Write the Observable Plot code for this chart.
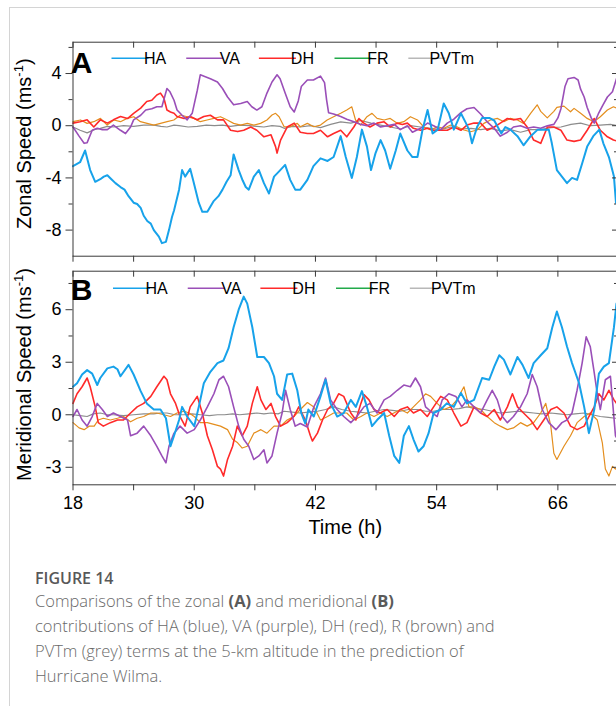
<!DOCTYPE html>
<html>
<head>
<meta charset="utf-8">
<script src="https://cdn.jsdelivr.net/npm/d3@7"></script>
<script src="https://cdn.jsdelivr.net/npm/@observablehq/plot@0.6"></script>
<style>
html,body{margin:0;padding:0;background:#fff;}
body{width:616px;height:706px;overflow:hidden;position:relative;font-family:"Liberation Sans",Arial,sans-serif;}
#frameTop{position:absolute;left:9px;top:7px;width:640px;height:0;border-top:1px solid #d4d4d4;}
#frameLeft{position:absolute;left:9px;top:7px;width:0;height:720px;border-left:1px solid #d4d4d4;}
#panelA{position:absolute;left:0;top:0;width:640px;height:270px;}
#panelB{position:absolute;left:0;top:256px;width:640px;height:300px;}
#panelA svg,#panelB svg{display:block;}
#figlabel{position:absolute;left:35px;top:566px;font-family:"Open Sans",sans-serif;font-weight:600;font-size:16px;line-height:25px;color:#585858;white-space:nowrap;}
#caption{position:absolute;left:35px;top:588px;font-family:"Open Sans",sans-serif;font-weight:300;font-size:16.5px;line-height:25px;color:#6a6a6a;white-space:nowrap;}
#caption b{font-weight:700;color:#5a5a5a;}
</style>
</head>
<body>
<div id="frameTop"></div>
<div id="frameLeft"></div>
<div id="panelA"></div>
<div id="panelB"></div>
<div id="figlabel">FIGURE 14</div>
<div id="caption">Comparisons of the zonal <b>(A)</b> and meridional <b>(B)</b><br>contributions of HA (blue), VA (purple), DH (red), R (brown) and<br>PVTm (grey) terms at the 5-km altitude in the prediction of<br>Hurricane Wilma.</div>
<script>
// ---------- series / legend metadata ----------
const seriesNames = ["HA", "VA", "DH", "FR", "PVTm"];
const lineColors = ["#17a2ea", "#9a4fb8", "#ff2a2a", "#e48e1e", "#8c8c8c"];
const legendColors = ["#17a2ea", "#9a4fb8", "#ff2a2a", "#22aa4a", "#b8b8b8"];
const strokeWidths = [2, 1.6, 1.6, 1.2, 1.2];

// ---------- axis ticks ----------
const xDomain = [18, 72];
const xTickValues = [18, 24, 30, 36, 42, 48, 54, 60, 66, 72];
const xLabelValues = [18, 30, 42, 54, 66];
const zonalDomain = [-10, 6.4];
const zonalMajor = [-8, -4, 0, 4];
const zonalMinor = [-6, -2, 2, 6];
const meridDomain = [-4, 8.2];
const meridMajor = [-3, 0, 3, 6];
const meridMinor = [-1.5, 1.5, 4.5, 7.5];

// ---------- panel A: zonal speed [time (h), value (m/s)] ----------
const zonalHA = [[18,-3.1],[18.7,-2.8],[19.2,-1.9],[19.7,-3.4],[20.2,-4.3],[20.7,-4.1],[21.05,-3.9],[21.4,-3.8],[21.8,-4.1],[22.2,-4.4],[22.7,-4.7],[23.1,-4.9],[23.5,-5.4],[24.0,-5.9],[24.35,-6.0],[24.7,-6.3],[25.0,-6.9],[25.35,-7.3],[25.7,-7.5],[26.0,-8.0],[26.5,-8.5],[26.8,-9.0],[27.2,-8.9],[27.5,-8.0],[27.8,-7.0],[28.0,-6.5],[28.5,-4.9],[28.8,-3.4],[29.1,-3.9],[29.6,-3.3],[29.9,-4.2],[30.45,-5.9],[30.8,-6.6],[31.3,-6.6],[31.9,-5.8],[32.4,-5.4],[32.8,-4.9],[33.2,-4.3],[33.6,-3.8],[33.9,-2.2],[34.4,-3.4],[34.8,-4.2],[35.1,-4.7],[35.4,-4.9],[35.9,-3.9],[36.4,-3.4],[36.9,-4.4],[37.4,-5.2],[37.9,-3.9],[38.4,-3.5],[39.0,-3.0],[39.5,-4.15],[40.0,-4.9],[40.5,-4.9],[41.2,-4.15],[41.8,-3.1],[42.5,-2.5],[43.2,-2.7],[43.8,-2.4],[44.5,-0.8],[45.0,-2.4],[45.6,-4.0],[46.1,-2.4],[46.6,-0.3],[47.1,-1.6],[47.5,-3.4],[47.95,-2.1],[48.45,-1.1],[48.9,-1.9],[49.4,-3.3],[49.95,-1.9],[50.4,-0.6],[51.1,-1.9],[51.6,-2.4],[52.1,-2.4],[52.6,-0.3],[53.1,1.2],[53.6,-0.6],[54.1,-0.3],[54.7,1.7],[55.2,0.95],[55.7,-0.3],[56.4,0.95],[56.9,0.2],[57.2,-0.3],[57.5,-1.35],[58.0,-0.1],[58.5,0.6],[59.2,0.6],[59.7,0.4],[60.4,-0.6],[60.8,-0.1],[61.3,-0.3],[62.0,-0.8],[62.6,-1.5],[63.3,-0.8],[64.0,-0.3],[64.6,-0.3],[65.1,-0.3],[65.4,-1.35],[65.9,-3.4],[66.4,-3.9],[66.9,-4.4],[67.4,-4.0],[67.9,-4.15],[68.4,-2.9],[68.9,-1.6],[69.5,-0.8],[70.1,-0.3],[70.5,-1.35],[71.05,-2.4],[71.55,-3.9],[71.75,-5.9],[72,-6.2]];
const zonalVA = [[18,-0.1],[18.6,-0.8],[19.1,-1.35],[19.4,-1.3],[19.9,-0.35],[20.4,-0.2],[20.9,-0.3],[21.4,-0.3],[22.0,0.05],[22.7,-0.35],[23.2,-0.6],[23.7,-0.1],[24.0,0.45],[24.7,0.8],[25.2,1.2],[25.8,1.3],[26.3,1.45],[26.8,1.45],[27.3,2.85],[27.6,2.6],[28.0,1.95],[28.3,1.2],[28.8,0.8],[29.3,0.45],[29.8,0.95],[30.3,2.7],[30.6,3.9],[31.1,3.75],[31.6,3.6],[32.3,3.35],[32.8,2.85],[33.3,2.2],[33.9,1.6],[34.6,1.7],[35.25,1.85],[35.7,1.45],[36.2,1.2],[36.7,1.45],[37.2,2.5],[37.7,3.35],[38.2,3.9],[38.5,3.6],[39.0,2.5],[39.5,1.45],[39.9,1.05],[40.3,1.9],[40.6,3.0],[41.2,3.5],[41.8,3.5],[42.5,3.8],[42.9,3.3],[43.1,2.0],[43.3,1.0],[43.8,0.9],[44.5,0.7],[45.1,0.5],[45.8,0.3],[46.5,0.1],[47.1,0.0],[47.8,0.2],[48.45,-0.1],[49.1,0.0],[49.8,0.1],[50.4,-0.3],[51.1,0.0],[51.6,-0.5],[52.4,-0.2],[53.1,0.2],[53.7,0.0],[54.4,-0.3],[55.05,0.2],[55.7,0.5],[56.4,1.0],[57.0,1.3],[57.7,1.4],[58.35,0.9],[59.0,0.3],[59.7,-0.2],[60.3,-0.8],[61.0,-0.5],[61.6,-0.1],[62.3,0.0],[62.96,-0.2],[63.6,-0.1],[64.3,-0.2],[64.96,0.0],[65.6,0.1],[66.0,0.6],[66.3,1.3],[66.7,3.0],[67.0,3.6],[67.6,3.7],[68.0,3.5],[68.25,2.8],[68.6,2.2],[68.9,1.4],[69.3,0.6],[69.6,0.2],[70.0,0.9],[70.4,1.5],[70.9,2.2],[71.4,2.6],[71.8,3.6],[72,4.0]];
const zonalDH = [[18,0.2],[18.7,0.3],[19.4,0.45],[20.06,-0.1],[20.7,0.45],[21.4,0.2],[22.0,0.45],[22.7,0.7],[23.4,0.55],[24.0,0.95],[24.7,1.35],[25.3,1.85],[25.8,1.95],[26.3,2.35],[26.66,2.5],[27.0,2.1],[27.3,1.2],[27.65,1.05],[28.0,0.95],[28.3,0.7],[29.0,0.55],[29.6,0.7],[30.3,0.45],[30.95,0.7],[31.6,0.8],[32.3,0.45],[32.9,0.45],[33.6,-0.35],[34.3,-0.45],[34.9,-0.35],[35.6,-0.1],[36.2,-0.35],[36.9,-0.85],[37.6,-0.7],[38.05,-1.6],[38.2,-2.1],[38.55,-1.1],[39.2,-0.1],[39.9,0.2],[40.5,-0.5],[41.2,-0.6],[41.8,-0.6],[42.5,-0.35],[43.2,-0.85],[43.8,-0.6],[44.5,-0.35],[45.1,-0.85],[45.8,-0.1],[46.3,0.55],[46.8,0.2],[47.4,-0.1],[48.1,0.2],[48.8,0.3],[49.4,-0.1],[50.1,0.2],[50.6,0.1],[51.1,0.2],[51.7,-0.2],[52.4,-0.35],[53.1,-0.2],[53.7,-0.35],[54.4,-0.35],[55.05,-0.35],[55.7,-0.1],[56.4,-0.35],[57.0,0.05],[57.7,0.2],[58.35,0.2],[59.0,-0.35],[59.7,-0.1],[60.3,0.2],[61.0,0.55],[61.6,0.45],[62.3,0.55],[62.96,-0.1],[63.6,-1.1],[64.3,-1.35],[64.96,-0.1],[65.6,-0.1],[66.3,-0.35],[66.9,-1.1],[67.6,-1.2],[68.25,-1.1],[68.9,-0.35],[69.6,0.55],[70.2,-0.35],[70.9,-0.85],[71.5,-1.1],[72,-1.2]];
const zonalFR = [[18,0.31],[18.74,0.44],[19.4,0.18],[20.06,0.31],[20.72,0.56],[21.38,0.05],[22.04,0.44],[22.7,0.31],[23.36,0.56],[24.02,0.69],[24.68,0.31],[25.34,0.18],[26.0,0.05],[26.66,0.18],[27.32,0.31],[27.98,0.44],[28.64,0.82],[29.3,0.69],[29.96,0.56],[30.6,0.31],[31.27,0.44],[31.94,0.56],[32.6,0.69],[33.27,0.44],[33.9,0.18],[34.6,0.05],[35.25,0.18],[35.9,0.05],[36.57,0.18],[37.2,0.44],[37.7,0.82],[38.05,0.95],[38.4,0.69],[38.9,-0.08],[39.5,-0.08],[40.2,0.18],[40.5,-0.08],[41.2,0.18],[41.84,-0.08],[42.5,0.05],[43.16,0.44],[43.8,0.69],[44.5,0.95],[45.1,1.2],[45.6,1.45],[45.97,0.44],[46.46,0.05],[47.1,0.69],[47.6,0.95],[48.1,0.56],[48.8,0.44],[49.4,0.56],[50.1,0.18],[50.75,0.31],[51.4,0.69],[52.1,0.44],[52.7,-0.08],[53.4,-0.33],[54.05,-0.08],[54.7,-0.2],[55.4,0.05],[56.0,-0.08],[56.7,-0.33],[57.35,-0.46],[58.0,-0.33],[58.67,0.18],[59.33,0.44],[60.0,0.56],[60.65,0.31],[61.3,0.56],[62.0,0.44],[62.6,0.18],[63.3,0.95],[63.95,1.6],[64.3,1.1],[64.95,0.6],[65.6,1.1],[65.9,1.4],[66.6,1.5],[67.25,1.07],[67.6,1.33],[68.25,0.95],[68.9,0.56],[69.56,0.31],[70.2,0.69],[70.9,1.2],[71.5,1.45],[72,1.3]];
const zonalPV = [[18,-0.1],[18.7,-0.35],[19.4,-0.55],[20.1,-0.3],[20.7,-0.2],[21.4,-0.05],[22.0,-0.1],[23.0,0.0],[24.0,-0.05],[25.0,0.05],[26.0,0.05],[26.7,-0.05],[27.3,-0.1],[28.0,0.05],[28.5,0.0],[29.4,-0.1],[30.3,-0.05],[31.2,0.05],[32.0,0.0],[32.8,0.05],[33.6,-0.05],[34.5,0.05],[35.5,0.0],[36.2,-0.05],[36.9,-0.1],[37.7,0.0],[38.5,-0.05],[38.9,-0.2],[39.7,-0.05],[40.5,-0.1],[41.5,0.0],[42.5,-0.15],[43.5,0.1],[44.5,0.3],[45.5,0.2],[46.5,0.4],[47.5,0.2],[48.45,0.05],[49.4,-0.1],[50.4,-0.25],[51.4,0.0],[52.4,-0.1],[53.4,-0.2],[54.4,-0.3],[55.4,-0.1],[56.4,-0.25],[57.4,-0.2],[58.35,-0.3],[59.3,-0.2],[60.3,-0.4],[61.3,-0.3],[62.3,-0.5],[63.3,-0.3],[64.3,-0.3],[65.3,-0.15],[66.3,-0.1],[67.3,0.1],[68.25,0.2],[69.2,0.0],[70.2,0.05],[71.2,0.1],[72,0.0]];

// ---------- panel B: meridional speed [time (h), value (m/s)] ----------
const meridHA = [[18,1.6],[18.4,1.8],[18.9,2.3],[19.4,2.55],[19.9,2.35],[20.4,1.7],[20.7,2.1],[21.4,2.65],[22.0,2.75],[22.4,2.6],[22.7,2.2],[23.5,2.85],[24.0,2.3],[24.7,1.35],[25.3,0.65],[26.0,0.3],[26.66,0.3],[27.2,-0.2],[27.65,-1.8],[28.0,-1.2],[28.5,-0.3],[28.8,0.45],[29.3,-0.1],[30.0,-0.65],[30.45,0.45],[30.95,1.8],[31.6,2.45],[32.3,2.95],[32.9,3.1],[33.4,3.8],[33.9,5.0],[34.4,6.0],[34.9,6.75],[35.25,6.35],[35.75,5.0],[36.24,3.3],[36.9,3.3],[37.4,2.95],[37.9,2.2],[38.2,1.2],[38.7,0.85],[39.2,2.3],[39.7,2.35],[40.2,1.4],[40.6,0.1],[41.0,-0.5],[41.3,0.3],[41.84,-0.1],[42.5,1.05],[43.0,2.0],[43.5,0.65],[44.15,-0.1],[44.8,0.1],[45.5,0.85],[46.0,0.45],[46.6,1.35],[47.1,0.45],[47.6,-0.65],[48.1,-0.3],[48.8,0.1],[49.3,-1.2],[49.8,-2.35],[50.3,-2.75],[50.75,-1.2],[51.25,-0.65],[51.7,-1.4],[52.2,-2.1],[52.7,-1.8],[53.2,-1.05],[53.7,0.1],[54.4,0.3],[55.0,0.65],[55.7,0.45],[56.4,1.25],[57.0,0.65],[57.7,0.85],[58.5,2.1],[59.2,2.0],[59.7,2.75],[60.2,3.4],[60.65,3.15],[61.3,2.3],[62.0,3.3],[62.5,2.85],[63.1,2.1],[63.6,2.95],[64.3,3.4],[64.95,3.8],[65.45,5.0],[65.9,5.9],[66.4,5.0],[66.9,3.9],[67.4,2.95],[68.1,1.8],[68.6,0.45],[69.07,-1.05],[69.6,0.3],[70.06,2.35],[70.55,2.75],[71.05,2.95],[71.55,5.0],[71.8,6.35],[72,6.5]];
const meridVA = [[18,-0.1],[18.4,0.3],[18.9,-0.3],[19.4,-0.65],[19.9,-0.1],[20.4,0.65],[20.9,0.3],[21.4,-0.1],[22.0,0.1],[22.7,-0.1],[23.4,-0.3],[23.7,-1.2],[24.35,-1.05],[25.0,-0.65],[25.7,-1.2],[26.3,-1.8],[26.8,-2.35],[27.2,-2.75],[27.5,-1.8],[28.0,-1.05],[28.6,-0.65],[29.3,-1.05],[30.0,-0.85],[30.6,-0.3],[31.3,0.45],[31.95,1.2],[32.45,2.0],[32.9,2.2],[33.4,1.6],[33.9,0.45],[34.4,-0.65],[34.9,-1.4],[35.4,-1.8],[35.9,-2.55],[36.4,-2.35],[36.9,-2.0],[37.2,-2.75],[37.7,-2.35],[38.2,-1.05],[38.7,0.1],[39.04,1.4],[39.5,0.3],[40.0,-0.65],[40.5,-0.5],[41.2,-0.7],[41.84,0.45],[42.5,1.2],[43.0,2.1],[43.5,0.85],[44.15,0.3],[44.8,-0.1],[45.5,-0.45],[46.1,-0.1],[46.8,0.45],[47.4,0.65],[48.1,0.1],[48.8,0.85],[49.4,1.05],[50.1,1.4],[50.75,1.7],[51.4,1.6],[51.9,2.1],[52.4,1.6],[52.9,0.45],[53.6,0.1],[54.05,-0.1],[54.55,0.85],[55.2,1.2],[55.9,1.05],[56.5,0.45],[57.0,0.85],[57.7,0.45],[58.35,0.1],[59.0,0.85],[59.5,1.4],[60.0,0.85],[60.5,-0.1],[61.0,-0.45],[61.6,-0.1],[62.3,0.45],[62.96,1.2],[63.46,2.3],[63.95,1.6],[64.45,0.3],[65.1,-0.45],[65.8,-0.85],[66.4,-0.45],[66.9,-0.3],[67.4,0.1],[67.9,1.4],[68.4,2.95],[68.8,4.45],[69.2,3.9],[69.56,2.55],[69.9,1.2],[70.2,0.3],[70.7,2.0],[71.2,2.2],[71.7,-1.2],[72,-1.5]];
const meridDH = [[18,0.65],[18.4,1.2],[18.9,1.6],[19.4,2.1],[19.7,1.6],[20.2,0.45],[20.5,-0.45],[21.0,-0.65],[21.7,-0.45],[22.4,-0.3],[23.0,-0.3],[23.7,0.1],[24.35,0.45],[25.0,0.65],[25.7,1.05],[26.3,1.6],[27.0,2.2],[27.3,2.0],[27.65,1.2],[28.15,0.65],[28.6,-0.1],[29.1,-0.65],[29.6,0.45],[30.3,1.05],[30.8,0.1],[31.3,-1.2],[31.8,-2.0],[32.3,-2.95],[32.6,-3.1],[32.9,-3.5],[33.3,-2.55],[33.8,-1.8],[34.26,-0.65],[34.75,-1.2],[35.25,-0.65],[35.75,0.65],[36.24,1.6],[36.6,0.85],[37.1,0.3],[37.6,0.65],[38.05,-0.1],[38.55,-0.65],[39.2,-0.45],[39.86,-0.1],[40.35,0.45],[41.0,-0.3],[41.5,-1.2],[41.7,-1.5],[42.2,-1.05],[42.7,-0.3],[43.2,0.3],[43.8,0.65],[44.3,1.2],[44.8,1.05],[45.5,0.1],[46.0,-0.3],[46.5,0.65],[46.8,1.15],[47.3,0.85],[47.8,0.3],[48.4,0.1],[49.1,0.3],[49.8,-0.1],[50.4,0.3],[51.1,0.45],[51.7,0.1],[52.4,0.3],[53.07,-0.1],[53.7,0.45],[54.4,1.05],[55.05,0.85],[55.7,0.1],[56.4,-0.65],[57.0,-0.45],[57.7,0.45],[58.35,0.1],[59.0,-0.1],[59.7,0.3],[60.3,-0.3],[61.0,0.45],[61.5,1.2],[62.0,0.45],[62.6,0.1],[63.3,-0.3],[63.95,-0.85],[64.6,-0.3],[65.3,0.3],[65.9,0.45],[66.6,0.1],[67.25,-0.65],[67.9,-0.85],[68.6,-0.65],[69.07,-0.1],[69.6,0.45],[70.06,1.2],[70.55,0.85],[71.05,1.4],[71.55,0.85],[72,0.5]];
const meridFR = [[18,-0.45],[18.6,-0.75],[19.1,-0.85],[19.6,-0.65],[20.1,-0.65],[20.5,-0.3],[21.0,-0.2],[21.7,-0.3],[22.4,-0.2],[23.0,-0.1],[23.7,-0.4],[24.35,-0.2],[25.0,-0.1],[25.7,0.1],[26.3,0.1],[27.0,0.0],[27.65,-0.1],[28.3,0.1],[29.0,0.2],[29.5,0.1],[30.0,-0.1],[30.6,-0.45],[31.3,-0.45],[31.95,-0.55],[32.6,-0.65],[33.3,-0.85],[33.8,-1.4],[34.3,-1.6],[34.75,-1.9],[35.25,-1.8],[35.9,-1.05],[36.6,-0.85],[37.2,-1.05],[37.9,-0.65],[38.55,-0.65],[39.2,-0.3],[39.86,-0.1],[40.5,0.3],[41.2,0.7],[41.84,0.45],[42.5,-0.3],[43.2,-0.1],[43.8,0.1],[44.5,0.1],[45.1,0.1],[45.8,-0.3],[46.5,-0.1],[47.1,0.1],[47.8,-0.1],[48.45,0.1],[49.1,-0.1],[49.76,0.1],[50.4,0.3],[51.1,0.1],[51.7,0.45],[52.4,0.85],[52.9,1.2],[53.4,1.05],[54.05,0.65],[54.7,0.3],[55.4,0.45],[56.0,0.85],[56.7,1.6],[57.2,0.45],[57.7,0.45],[58.35,0.3],[59.0,-0.1],[59.7,-0.45],[60.3,-0.65],[61.0,-0.85],[61.6,-0.75],[62.3,-0.45],[62.96,-0.65],[63.6,-0.45],[64.3,0.1],[64.8,0.65],[65.3,-0.65],[65.6,-2.2],[65.9,-2.55],[66.6,-1.8],[67.25,-1.2],[67.9,-0.45],[68.6,-0.1],[69.2,0.1],[69.9,-0.3],[70.4,-1.6],[70.7,-3.1],[71.05,-3.5],[71.4,-2.95],[71.7,-3.1],[72,-3.0]];
const meridPV = [[18,0.0],[18.7,-0.05],[19.4,-0.1],[20.0,0.05],[20.7,0.1],[21.4,0.0],[22.0,0.0],[23.0,-0.05],[24.0,0.0],[25.0,0.05],[26.0,0.05],[26.6,0.1],[27.3,0.1],[28.1,0.0],[29.0,0.0],[29.8,0.05],[30.6,0.0],[31.5,-0.05],[32.3,0.0],[33.0,0.0],[33.8,0.05],[34.5,0.0],[35.4,0.05],[36.2,0.1],[36.9,0.05],[37.6,0.1],[38.3,0.05],[38.9,0.2],[39.7,0.15],[40.5,0.1],[41.3,0.15],[42.2,0.2],[43.0,0.3],[43.8,0.45],[44.6,0.3],[45.5,0.2],[46.3,0.15],[47.1,0.1],[47.9,0.2],[48.8,0.3],[49.6,0.25],[50.4,0.2],[51.2,0.3],[52.1,0.3],[52.9,0.2],[53.7,0.2],[54.6,0.3],[55.4,0.3],[56.2,0.35],[57.0,0.45],[57.9,0.35],[58.7,0.3],[59.5,0.2],[60.3,0.1],[61.2,0.15],[62.0,0.2],[62.8,0.15],[63.6,0.1],[64.4,0.05],[65.3,0.1],[66.1,0.05],[66.9,0.0],[67.7,0.05],[68.6,0.1],[69.4,0.0],[70.2,-0.1],[71.0,-0.15],[71.7,-0.2],[72,-0.2]];

const zonalSeries = [zonalHA, zonalVA, zonalDH, zonalFR, zonalPV];
const meridSeries = [meridHA, meridVA, meridDH, meridFR, meridPV];

const FONT = '"Liberation Sans", Arial, Helvetica, sans-serif';
const AXIS = "#3a3a3a";

function makePanel(containerId, cfg) {
  const width = 640, marginLeft = 72.5, marginRight = 22;
  const plotW = width - marginLeft - marginRight;
  const plotH = cfg.height - cfg.marginTop - cfg.marginBottom;
  const marks = [];
  [4, 3, 2, 1, 0].forEach(i => {
    marks.push(Plot.line(cfg.series[i], {
      x: d => d[0], y: d => d[1],
      stroke: lineColors[i], strokeWidth: strokeWidths[i],
      strokeLinejoin: "round", curve: "linear"
    }));
  });
  marks.push(
    Plot.frame({stroke: AXIS, strokeWidth: 1}),
    Plot.axisY(cfg.yMajor, {tickSize: 7, tickPadding: 4.5, fontSize: 18, stroke: AXIS, fill: "#000", label: null, tickFormat: d => String(d)}),
    Plot.axisY(cfg.yMinor, {tickSize: 4, tickFormat: () => "", stroke: AXIS, label: null}),
    Plot.axisX(xTickValues, {
      anchor: "bottom", tickSize: 6, tickPadding: 5.5, fontSize: 18, stroke: AXIS, fill: "#000", label: null,
      tickFormat: cfg.xLabels ? (d => xLabelValues.includes(d) ? String(d) : "") : (() => "")
    }),
    Plot.ruleX(xTickValues, {insetBottom: plotH - 6, stroke: AXIS}),
    Plot.ruleY(cfg.yMajor, {insetLeft: plotW - 6, stroke: AXIS}),
    Plot.ruleY(cfg.yMinor, {insetLeft: plotW - 4, stroke: AXIS})
  );
  const chart = Plot.plot({
    width, height: cfg.height,
    marginLeft, marginRight, marginTop: cfg.marginTop, marginBottom: cfg.marginBottom,
    x: {domain: xDomain},
    y: {domain: cfg.yDomain},
    style: {fontFamily: FONT, fontSize: "18px", color: "#000", background: "transparent", overflow: "visible"},
    marks
  });
  document.getElementById(containerId).appendChild(chart);

  const svg = d3.select(chart);
  const yr = chart.scale("y").range;
  const xr = chart.scale("x").range;
  const cy = (yr[0] + yr[1]) / 2;

  // y-axis title with superscript
  const t = svg.append("text")
    .attr("transform", `translate(31,${cy + cfg.titleShift}) rotate(-90)`)
    .attr("text-anchor", "middle")
    .attr("font-family", FONT).attr("font-size", 20).attr("fill", "#000");
  t.append("tspan").text(cfg.yTitle + " (ms");
  t.append("tspan").attr("dy", -8).attr("font-size", 13).text("-1");
  t.append("tspan").attr("dy", 8).text(")");

  // panel letter
  svg.append("text").attr("x", marginLeft + 9).attr("y", cfg.letterY)
    .attr("font-family", FONT).attr("font-size", 30).attr("font-weight", "bold").attr("fill", "#000")
    .text(cfg.letter);

  // legend
  let lx = cfg.legendX;
  seriesNames.forEach((name, i) => {
    svg.append("line").attr("x1", lx).attr("x2", lx + 37).attr("y1", cfg.legendY).attr("y2", cfg.legendY)
      .attr("stroke", legendColors[i]).attr("stroke-width", 1.6);
    const txt = svg.append("text").attr("x", lx + 43.5).attr("y", cfg.legendY + 5.8)
      .attr("font-family", FONT).attr("font-size", 16).attr("fill", "#000").text(name);
    let w = txt.node().getComputedTextLength();
    if (!w) w = name.length * 10.5;
    lx = lx + 43.5 + w + 9;
  });

  if (cfg.xTitle) {
    svg.append("text").attr("x", (xr[0] + xr[1]) / 2).attr("y", cfg.xTitleY)
      .attr("text-anchor", "middle").attr("font-family", FONT).attr("font-size", 20).attr("fill", "#000")
      .text(cfg.xTitle);
  }
  return chart;
}

makePanel("panelA", {
  series: zonalSeries, yDomain: zonalDomain, yMajor: zonalMajor, yMinor: zonalMinor,
  height: 270, marginTop: 41.7, marginBottom: 14.3, xLabels: false,
  yTitle: "Zonal Speed", titleShift: -5, letter: "A", letterY: 72.5,
  legendX: 111.5, legendY: 58.3
});

makePanel("panelB", {
  series: meridSeries, yDomain: meridDomain, yMajor: meridMajor, yMinor: meridMinor,
  height: 300, marginTop: 14.7, marginBottom: 71.7, xLabels: true,
  yTitle: "Meridional Speed", titleShift: -3, letter: "B", letterY: 44,
  legendX: 113, legendY: 32.3, xTitle: "Time (h)", xTitleY: 278
});
</script>
</body>
</html>
